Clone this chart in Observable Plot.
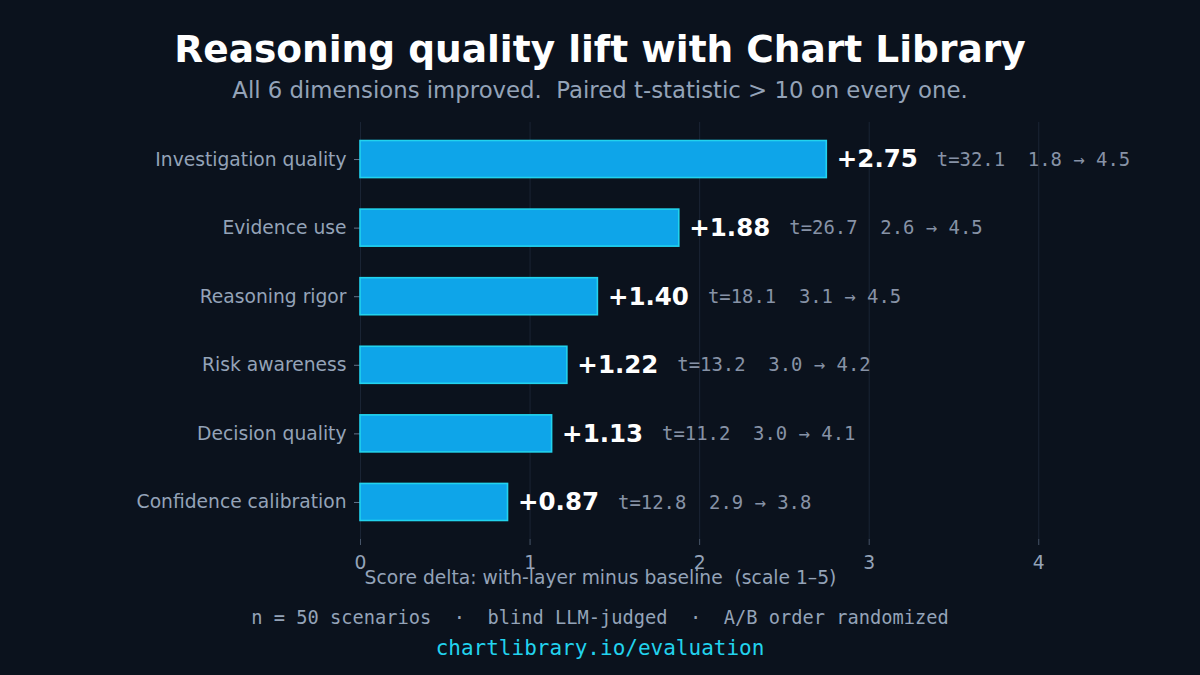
<!DOCTYPE html>
<html>
<head>
<meta charset="utf-8">
<script src="https://cdn.jsdelivr.net/npm/d3@7"></script>
<script src="https://cdn.jsdelivr.net/npm/@observablehq/plot@0.6"></script>
<style>
  html, body { margin: 0; padding: 0; background: #0b121d; }
  #wrap { width: 1200px; height: 675px; position: relative; background: #0b121d; overflow: hidden; }
  #header { position: relative; height: 110px; }
  #title { position: absolute; left: 0; right: 0; top: 25px; text-align: center; font-family: "DejaVu Sans", sans-serif; font-weight: bold; font-size: 37.5px; line-height: 48px; color: #ffffff; }
  #subtitle { position: absolute; left: 0; right: 0; top: 76px; text-align: center; font-family: "DejaVu Sans", sans-serif; font-size: 22.8px; line-height: 28px; color: #94a3b8; white-space: pre; }
  #chart { height: 488px; }
  #chart svg { display: block; }
  #footer { position: relative; height: 77px; }
  #note { position: absolute; left: 0; right: 0; top: 8px; text-align: center; font-family: "DejaVu Sans Mono", monospace; font-size: 18.7px; line-height: 24px; color: #94a3b8; white-space: pre; }
  #link { position: absolute; left: 0; right: 0; top: 37px; text-align: center; font-family: "DejaVu Sans Mono", monospace; font-size: 21px; line-height: 26px; color: #22d3ee; white-space: pre; }
</style>
</head>
<body>
<div id="wrap">
  <div id="header">
    <div id="title">Reasoning quality lift with Chart Library</div>
    <div id="subtitle">All 6 dimensions improved.  Paired t-statistic &gt; 10 on every one.</div>
  </div>
  <div id="chart"></div>
  <div id="footer">
    <div id="note">n = 50 scenarios  ·  blind LLM-judged  ·  A/B order randomized</div>
    <div id="link">chartlibrary.io/evaluation</div>
  </div>
</div>
<script>
const categories = ["Investigation quality", "Evidence use", "Reasoning rigor", "Risk awareness", "Decision quality", "Confidence calibration"];
const deltas = [2.75, 1.88, 1.40, 1.22, 1.13, 0.87];
const tStats = [32.1, 26.7, 18.1, 13.2, 11.2, 12.8];
const baselineScores = [1.8, 2.6, 3.1, 3.0, 3.0, 2.9];
const withLayerScores = [4.5, 4.5, 4.5, 4.2, 4.1, 3.8];
const xTicks = [0, 1, 2, 3, 4];
const xLabel = "Score delta: with-layer minus baseline\u00a0\u00a0(scale 1\u20135)";

const rows = categories.map((c, i) => ({
  category: c,
  delta: deltas[i],
  t: tStats[i],
  base: baselineScores[i],
  after: withLayerScores[i]
}));

const W = 1200, H = 488;
const mL = 360, mR = 60, mT = 12, mB = 59;
const plotCenter = mL + (W - mL - mR) / 2;
const labelSize = 18.7;

const chart = Plot.plot({
  width: W,
  height: H,
  marginLeft: mL,
  marginRight: mR,
  marginTop: mT,
  marginBottom: mB,
  style: {
    background: "transparent",
    color: "#94a3b8",
    fontFamily: "DejaVu Sans, sans-serif",
    fontSize: labelSize + "px",
    overflow: "visible"
  },
  x: { domain: [0, 4.6] },
  y: { domain: categories, paddingInner: 0.46, paddingOuter: 0.27, round: false },
  marks: [
    Plot.gridX(xTicks, { stroke: "#1e293b", strokeOpacity: 0.8, strokeWidth: 1 }),
    Plot.ruleY([0], { frameAnchor: "bottom", stroke: "#253041", strokeWidth: 1.6 }),
    Plot.axisX(xTicks, { tickSize: 6, tickPadding: 10, stroke: "#475569", color: "#94a3b8", fontSize: labelSize, label: null, tickFormat: d => String(d) }),
    Plot.axisY({ tickSize: 6, tickPadding: 8, stroke: "#64748b", color: "#94a3b8", fontSize: labelSize, label: null }),
    Plot.barX(rows, { x: "delta", y: "category", fill: "#0ea5e9", stroke: "#22d3ee", strokeWidth: 1.6 }),
    Plot.text(rows, { x: "delta", y: "category", text: d => "+" + d.delta.toFixed(2), textAnchor: "start", dx: 10, fill: "#ffffff", fontWeight: "bold", fontSize: 24.5, fontFamily: "DejaVu Sans, sans-serif" }),
    Plot.text(rows, { x: "delta", y: "category", text: d => `t=${d.t.toFixed(1)}\u00a0\u00a0${d.base.toFixed(1)} \u2192 ${d.after.toFixed(1)}`, textAnchor: "start", dx: 110, fill: "#8792a6", fontSize: 18.9, fontFamily: "DejaVu Sans Mono, monospace" }),
    Plot.text([xLabel], { frameAnchor: "bottom", dx: W / 2 - plotCenter, dy: 44, fill: "#94a3b8", fontSize: labelSize, fontFamily: "DejaVu Sans, sans-serif" })
  ]
});
document.getElementById("chart").appendChild(chart);
</script>
</body>
</html>
